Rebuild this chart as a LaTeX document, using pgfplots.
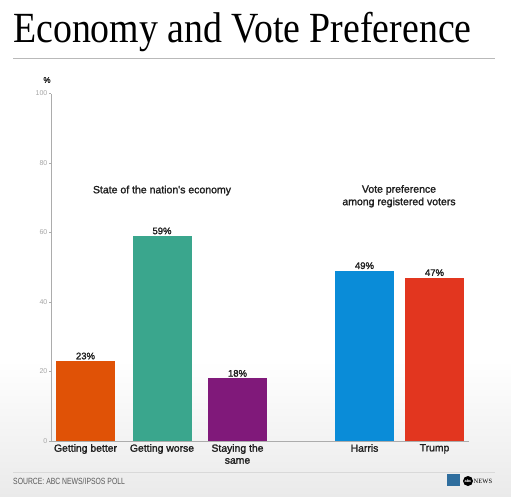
\documentclass[border=0pt]{standalone}
\usepackage{pgfplots}
\pgfplotsset{compat=1.18}
\usepackage{graphicx}
\usepackage{fontspec}
\setmainfont{Liberation Sans}
\newfontfamily\titlefont{Liberation Serif}
\newfontfamily\medfont[FakeBold=1.6]{Liberation Sans}
\definecolor{cOrange}{HTML}{E05206}
\definecolor{cTeal}{HTML}{3AA68D}
\definecolor{cPurple}{HTML}{80197A}
\definecolor{cBlue}{HTML}{0A8CD8}
\definecolor{cRed}{HTML}{E2361F}
\definecolor{bgGrey}{HTML}{EAEAEA}
\definecolor{ipsos}{HTML}{2F6E9E}
\begin{document}
\begin{tikzpicture}[x=1pt,y=1pt]
\fill[white] (0pt,0pt) rectangle (511pt,-497pt);
\shade[top color=white,bottom color=bgGrey] (0pt,-360pt) rectangle (511pt,-497pt);
\node[anchor=base west,inner sep=0] at (13pt,-42.7pt) {\scalebox{0.88}[1]{\titlefont\fontsize{43}{43}\selectfont Economy and Vote Preference}};
\draw[gray!55,line width=0.8pt] (13pt,-58pt) -- (495pt,-58pt);
\begin{axis}[
  at={(51pt,-441pt)}, anchor=south west, scale only axis,
  width=418pt, height=347.5pt,
  xmin=51, xmax=469, ymin=0, ymax=100,
  ybar, bar width=59pt, bar shift=0pt,
  axis x line*=bottom, axis y line*=left,
  axis line style={gray!65, line width=0.6pt, -},
  ytick={0,20,...,100},
  yticklabel style={font=\fontsize{7}{7}\selectfont, text=gray!70, inner sep=1.5pt},
  /pgf/number format/assume math mode=true,
  ytick style={gray!65, line width=0.5pt},
  tick align=outside, major tick length=2pt,
  xtick={85.5,162,237.5,364.5,434.5},
  xticklabels={Getting better, Getting worse, {Staying the\\same}, Harris, Trump},
  xticklabel style={font=\medfont\fontsize{10.4}{12}\selectfont, align=center, text=black!88, inner sep=1pt},
  x tick style={draw=none},
  nodes near coords={\pgfmathprintnumber{\pgfplotspointmeta}\%},
  nodes near coords style={font=\medfont\fontsize{9.5}{10}\selectfont, inner sep=1.5pt, anchor=south, text=black!88},
  clip=false,
]
\addplot[fill=cOrange, draw=none] coordinates {(85.5,23)};
\addplot[fill=cTeal, draw=none] coordinates {(162,59)};
\addplot[fill=cPurple, draw=none] coordinates {(237.5,18)};
\addplot[fill=cBlue, draw=none] coordinates {(364.5,49)};
\addplot[fill=cRed, draw=none] coordinates {(434.5,47)};
\end{axis}
\node[font=\medfont\fontsize{8}{8}\selectfont, text=black!88] at (47pt,-80pt) {\%};
\node[font=\medfont\fontsize{10.5}{12}\selectfont, anchor=base, text=black!88] at (162pt,-193.3pt) {State of the nation's economy};
\node[font=\medfont\fontsize{10.5}{12}\selectfont, anchor=base, text=black!88] at (399pt,-192.7pt) {Vote preference};
\node[font=\medfont\fontsize{10.5}{12}\selectfont, anchor=base, text=black!88] at (399pt,-205.2pt) {among registered voters};
\draw[gray!30, line width=0.6pt] (13pt,-472pt) -- (495pt,-472pt);
\node[anchor=west,inner sep=0] at (13pt,-481pt) {\scalebox{0.76}[1]{\fontsize{9}{9}\selectfont\color{gray!70!black}SOURCE: ABC NEWS/IPSOS POLL}};
\fill[ipsos] (447pt,-474pt) rectangle (460pt,-486pt);
\fill[black] (468pt,-481pt) circle (5pt);
\node[text=white, font=\bfseries\fontsize{4}{4}\selectfont, inner sep=0] at (468pt,-481pt) {abc};
\node[anchor=west, inner sep=0, font=\titlefont\fontsize{6.5}{6.5}\selectfont] at (473.5pt,-481pt) {NEWS};
\end{tikzpicture}
\end{document}
